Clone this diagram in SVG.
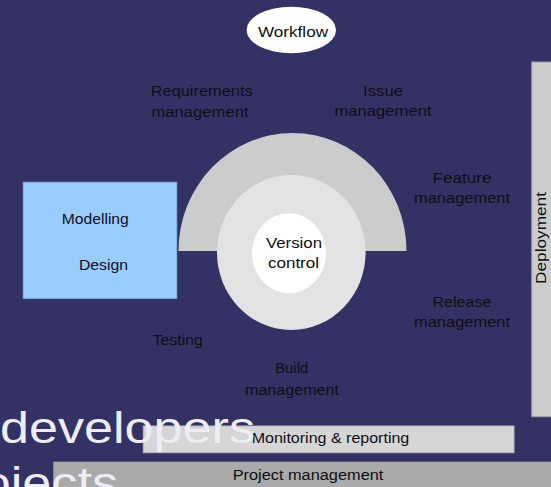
<svg xmlns="http://www.w3.org/2000/svg" width="551" height="487" viewBox="0 0 551 487">
<style>
.t{font-family:"Liberation Sans",Arial,sans-serif;font-size:14px;fill:#0e0e16;text-anchor:middle}
.big{font-family:"Liberation Sans",Arial,sans-serif;font-size:44px;fill:#ededf3}
</style>
<rect x="0" y="0" width="551" height="487" fill="#343264"/>
<g id="workflow">
<ellipse cx="291.3" cy="30" rx="44.7" ry="23.3" fill="#ffffff"/>
<text class="t" x="293" y="37" font-size="15" textLength="70" lengthAdjust="spacingAndGlyphs">Workflow</text>
</g>
<g id="requirements">
<text class="t" x="201.7" y="96" textLength="102" lengthAdjust="spacingAndGlyphs">Requirements</text>
<text class="t" x="200" y="116.5" textLength="97" lengthAdjust="spacingAndGlyphs">management</text>
</g>
<g id="issue">
<text class="t" x="383" y="96" textLength="40" lengthAdjust="spacingAndGlyphs">Issue</text>
<text class="t" x="383" y="116" textLength="97" lengthAdjust="spacingAndGlyphs">management</text>
</g>
<g id="feature">
<text class="t" x="462" y="183" textLength="59" lengthAdjust="spacingAndGlyphs">Feature</text>
<text class="t" x="462" y="203" textLength="96" lengthAdjust="spacingAndGlyphs">management</text>
</g>
<g id="release">
<text class="t" x="462" y="306.7" textLength="59" lengthAdjust="spacingAndGlyphs">Release</text>
<text class="t" x="462" y="327" textLength="96" lengthAdjust="spacingAndGlyphs">management</text>
</g>
<g id="testing">
<text class="t" x="177.7" y="345" textLength="50" lengthAdjust="spacingAndGlyphs">Testing</text>
</g>
<g id="build">
<text class="t" x="291.7" y="373.3" textLength="33" lengthAdjust="spacingAndGlyphs">Build</text>
<text class="t" x="292" y="395" textLength="94" lengthAdjust="spacingAndGlyphs">management</text>
</g>
<g id="modelling-design">
<rect x="23.3" y="182.3" width="153.4" height="116" fill="#99ccff" stroke="#86b6e6" stroke-width="1"/>
<text class="t" x="95.3" y="224" textLength="67" lengthAdjust="spacingAndGlyphs">Modelling</text>
<text class="t" x="103.5" y="270" textLength="49" lengthAdjust="spacingAndGlyphs">Design</text>
</g>
<g id="version-control">
<path d="M178.5 251 A114 118 0 0 1 406.5 251 Z" fill="#cccccc"/>
<ellipse cx="291.3" cy="252.5" rx="74.3" ry="77.5" fill="#e3e3e3"/>
<ellipse cx="289" cy="253.3" rx="37" ry="40" fill="#ffffff"/>
<text class="t" x="294" y="248" textLength="56" lengthAdjust="spacingAndGlyphs">Version</text>
<text class="t" x="293.5" y="267.7" textLength="51" lengthAdjust="spacingAndGlyphs">control</text>
</g>
<g id="deployment">
<rect x="531.7" y="62" width="25" height="354.7" fill="#cccccc" stroke="#9a9aa8" stroke-width="1"/>
<text class="t" transform="translate(546 238) rotate(-90)" x="0" y="0" font-size="13" textLength="92" lengthAdjust="spacingAndGlyphs">Deployment</text>
</g>
<g id="monitoring">
<rect x="143.3" y="426" width="370.7" height="26.7" fill="#d6d6d6" stroke="#b8b8c0" stroke-width="1"/>
<text class="t" x="330.5" y="443" textLength="157.6" lengthAdjust="spacingAndGlyphs">Monitoring &amp; reporting</text>
</g>
<g id="project">
<rect x="53.3" y="461.7" width="500" height="30" fill="#aaaaaa"/>
<text class="t" x="308" y="480" textLength="150.7" lengthAdjust="spacingAndGlyphs">Project management</text>
</g>
<g id="overlay-text">
<text class="big" x="0" y="443" textLength="255" lengthAdjust="spacingAndGlyphs">developers</text>
<text class="big" x="-64.6" y="498" textLength="182.6" lengthAdjust="spacingAndGlyphs">projects</text>
</g>
</svg>
